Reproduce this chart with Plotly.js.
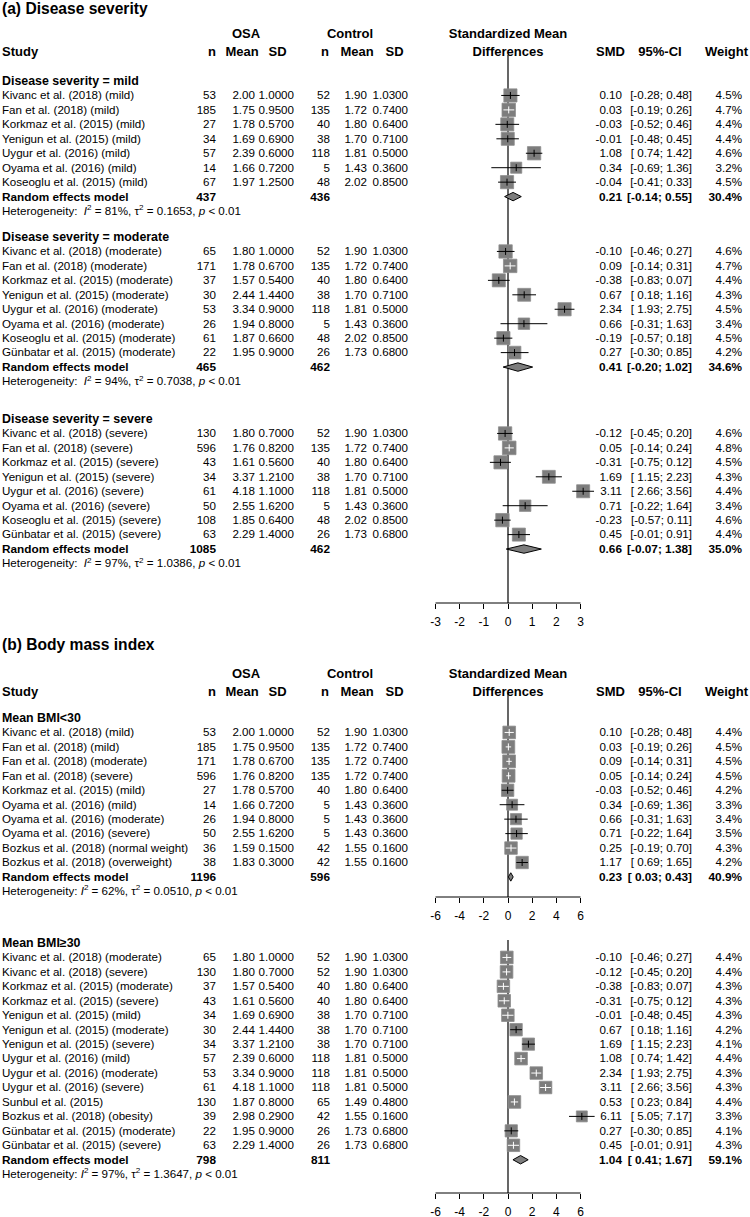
<!DOCTYPE html>
<html><head><meta charset="utf-8">
<script src="https://cdn.plot.ly/plotly-3.0.1.min.js"></script>
<style>html,body{margin:0;padding:0;background:#fff}</style>
</head><body><div id="chart" style="width:750px;height:1217px"></div>
<script>
// ================= DATA: panel (a) Disease severity =================
const aGroupLabels = ['Disease severity = mild', 'Disease severity = moderate', 'Disease severity = severe'];
const aGroupOf = [0,0,0,0,0,0,0, 1,1,1,1,1,1,1,1, 2,2,2,2,2,2,2,2];
const aStudies = [
 'Kivanc et al. (2018) (mild)','Fan et al. (2018) (mild)','Korkmaz et al. (2015) (mild)','Yenigun et al. (2015) (mild)','Uygur et al. (2016) (mild)','Oyama et al. (2016) (mild)','Koseoglu et al. (2015) (mild)',
 'Kivanc et al. (2018) (moderate)','Fan et al. (2018) (moderate)','Korkmaz et al. (2015) (moderate)','Yenigun et al. (2015) (moderate)','Uygur et al. (2016) (moderate)','Oyama et al. (2016) (moderate)','Koseoglu et al. (2015) (moderate)','Günbatar et al. (2015) (moderate)',
 'Kivanc et al. (2018) (severe)','Fan et al. (2018) (severe)','Korkmaz et al. (2015) (severe)','Yenigun et al. (2015) (severe)','Uygur et al. (2016) (severe)','Oyama et al. (2016) (severe)','Koseoglu et al. (2015) (severe)','Günbatar et al. (2015) (severe)'];
const aOsaN    = [53,185,27,34,57,14,67, 65,171,37,30,53,26,61,22, 130,596,43,34,61,50,108,63];
const aOsaMean = [2.00,1.75,1.78,1.69,2.39,1.66,1.97, 1.80,1.78,1.57,2.44,3.34,1.94,1.87,1.95, 1.80,1.76,1.61,3.37,4.18,2.55,1.85,2.29];
const aOsaSD   = [1.00,0.95,0.57,0.69,0.60,0.72,1.25, 1.00,0.67,0.54,1.44,0.90,0.80,0.66,0.90, 0.70,0.82,0.56,1.21,1.10,1.62,0.64,1.40];
const aCtlN    = [52,135,40,38,118,5,48, 52,135,40,38,118,5,48,26, 52,135,40,38,118,5,48,26];
const aCtlMean = [1.90,1.72,1.80,1.70,1.81,1.43,2.02, 1.90,1.72,1.80,1.70,1.81,1.43,2.02,1.73, 1.90,1.72,1.80,1.70,1.81,1.43,2.02,1.73];
const aCtlSD   = [1.03,0.74,0.64,0.71,0.50,0.36,0.85, 1.03,0.74,0.64,0.71,0.50,0.36,0.85,0.68, 1.03,0.74,0.64,0.71,0.50,0.36,0.85,0.68];
const aSMD     = [0.10,0.03,-0.03,-0.01,1.08,0.34,-0.04, -0.10,0.09,-0.38,0.67,2.34,0.66,-0.19,0.27, -0.12,0.05,-0.31,1.69,3.11,0.71,-0.23,0.45];
const aLo      = [-0.28,-0.19,-0.52,-0.48,0.74,-0.69,-0.41, -0.46,-0.14,-0.83,0.18,1.93,-0.31,-0.57,-0.30, -0.45,-0.14,-0.75,1.15,2.66,-0.22,-0.57,-0.01];
const aHi      = [0.48,0.26,0.46,0.45,1.42,1.36,0.33, 0.27,0.31,0.07,1.16,2.75,1.63,0.18,0.85, 0.20,0.24,0.12,2.23,3.56,1.64,0.11,0.91];
const aWeight  = [4.5,4.7,4.4,4.4,4.6,3.2,4.5, 4.6,4.7,4.4,4.3,4.5,3.4,4.5,4.2, 4.6,4.8,4.5,4.3,4.4,3.4,4.6,4.4];
const aPoolOsaN = [437,465,1085];
const aPoolCtlN = [436,462,462];
const aPoolSMD  = [0.21,0.41,0.66];
const aPoolLo   = [-0.14,-0.20,-0.07];
const aPoolHi   = [0.55,1.02,1.38];
const aPoolWeight = [30.4,34.6,35.0];
const aI2   = [81,94,97];
const aTau2 = [0.1653,0.7038,1.0386];
const aTicks = [-3,-2,-1,0,1,2,3];
const aTickLabels = ['-3','-2','-1','0','1','2','3'];

// ================= DATA: panel (b) Body mass index =================
const bGroupLabels = ['Mean BMI<30', 'Mean BMI≥30'];
const bGroupOf = [0,0,0,0,0,0,0,0,0,0, 1,1,1,1,1,1,1,1,1,1,1,1,1,1];
const bStudies = [
 'Kivanc et al. (2018) (mild)','Fan et al. (2018) (mild)','Fan et al. (2018) (moderate)','Fan et al. (2018) (severe)','Korkmaz et al. (2015) (mild)','Oyama et al. (2016) (mild)','Oyama et al. (2016) (moderate)','Oyama et al. (2016) (severe)','Bozkus et al. (2018) (normal weight)','Bozkus et al. (2018) (overweight)',
 'Kivanc et al. (2018) (moderate)','Kivanc et al. (2018) (severe)','Korkmaz et al. (2015) (moderate)','Korkmaz et al. (2015) (severe)','Yenigun et al. (2015) (mild)','Yenigun et al. (2015) (moderate)','Yenigun et al. (2015) (severe)','Uygur et al. (2016) (mild)','Uygur et al. (2016) (moderate)','Uygur et al. (2016) (severe)','Sunbul et al. (2015)','Bozkus et al. (2018) (obesity)','Günbatar et al. (2015) (moderate)','Günbatar et al. (2015) (severe)'];
const bOsaN    = [53,185,171,596,27,14,26,50,36,38, 65,130,37,43,34,30,34,57,53,61,130,39,22,63];
const bOsaMean = [2.00,1.75,1.78,1.76,1.78,1.66,1.94,2.55,1.59,1.83, 1.80,1.80,1.57,1.61,1.69,2.44,3.37,2.39,3.34,4.18,1.87,2.98,1.95,2.29];
const bOsaSD   = [1.00,0.95,0.67,0.82,0.57,0.72,0.80,1.62,0.15,0.30, 1.00,0.70,0.54,0.56,0.69,1.44,1.21,0.60,0.90,1.10,0.80,0.29,0.90,1.40];
const bCtlN    = [52,135,135,135,40,5,5,5,42,42, 52,52,40,40,38,38,38,118,118,118,65,42,26,26];
const bCtlMean = [1.90,1.72,1.72,1.72,1.80,1.43,1.43,1.43,1.55,1.55, 1.90,1.90,1.80,1.80,1.70,1.70,1.70,1.81,1.81,1.81,1.49,1.55,1.73,1.73];
const bCtlSD   = [1.03,0.74,0.74,0.74,0.64,0.36,0.36,0.36,0.16,0.16, 1.03,1.03,0.64,0.64,0.71,0.71,0.71,0.50,0.50,0.50,0.48,0.16,0.68,0.68];
const bSMD     = [0.10,0.03,0.09,0.05,-0.03,0.34,0.66,0.71,0.25,1.17, -0.10,-0.12,-0.38,-0.31,-0.01,0.67,1.69,1.08,2.34,3.11,0.53,6.11,0.27,0.45];
const bLo      = [-0.28,-0.19,-0.14,-0.14,-0.52,-0.69,-0.31,-0.22,-0.19,0.69, -0.46,-0.45,-0.83,-0.75,-0.48,0.18,1.15,0.74,1.93,2.66,0.23,5.05,-0.30,-0.01];
const bHi      = [0.48,0.26,0.31,0.24,0.46,1.36,1.63,1.64,0.70,1.65, 0.27,0.20,0.07,0.12,0.45,1.16,2.23,1.42,2.75,3.56,0.84,7.17,0.85,0.91];
const bWeight  = [4.4,4.5,4.5,4.5,4.2,3.3,3.4,3.5,4.3,4.2, 4.4,4.4,4.3,4.3,4.3,4.2,4.1,4.4,4.3,4.3,4.4,3.3,4.1,4.3];
const bPoolOsaN = [1196,798];
const bPoolCtlN = [596,811];
const bPoolSMD  = [0.23,1.04];
const bPoolLo   = [0.03,0.41];
const bPoolHi   = [0.43,1.67];
const bPoolWeight = [40.9,59.1];
const bI2   = [62,97];
const bTau2 = [0.0510,1.3647];
const bTicks = [-6,-4,-2,0,2,4,6];
const bTickLabels = ['-6','-4','-2','0','2','4','6'];

// ================= LAYOUT CONFIG (positions / styles) =================
const W = 750, H = 1217;
const FONT = 'Liberation Sans, Arial, Helvetica, sans-serif';
const FS = 11.6;             // body font size
const FS_BOLD = 11.8;        // pooled row
const FS_GROUP = 12.4;       // subgroup header
const FS_HDR = 13;           // column headers
const FS_TITLE = 15.6;
const STEP = 14.45;          // row height in px
const TXT_DY = 1;            // text baseline tweak
const COL = {study:2, osaN:216, osaMean:255, osaSD:294, ctlN:330, ctlMean:367, ctlSD:408, smd:622, ci:692, w:742};
const HDR = {osa:246, ctl:350, smdHead:508, n1:216, mean1:242, sd1:277.5, n2:329, mean2:357, sd2:394.5, smd:625, ci:660, w:748};
const FOREST_PX = [435.5, 580.5];   // pixel span of the tick range
const DOM_PX = [390, 640];          // pixel span of the forest axes' domain
const SQ_COL = '#7d7d7d';
const SQ_EDGE = '#8e8e8e';
const AXES = [
  {id:2, ticks:aTicks, labels:aTickLabels, lineY:603, zeroTop:55,  sqMax:13.6, sqTest:13},
  {id:3, ticks:bTicks, labels:bTickLabels, lineY:897, zeroTop:693, sqMax:12.8, sqTest:11.8},
  {id:4, ticks:bTicks, labels:bTickLabels, lineY:1193, zeroTop:940, sqMax:12.8, sqTest:11.8}
];
AXES.forEach(a => {
  const tmin = Math.min(...a.ticks), tmax = Math.max(...a.ticks);
  a.tmin = tmin; a.tmax = tmax;
  a.ppu = (FOREST_PX[1] - FOREST_PX[0]) / (tmax - tmin);
  a.zero = FOREST_PX[0] - tmin * a.ppu;
  a.range = [(DOM_PX[0] - a.zero) / a.ppu, (DOM_PX[1] - a.zero) / a.ppu];
  a.marks = {sqX:[], sqY:[], sqS:[], blk:{x:[],y:[]}, wht:{x:[],y:[]}, tkX:[], tkY:[], tkC:[], dia:[]};
});

const panels = [
  {title:'(a) Disease severity', titleY:9, hdrY:[34,52], groupY:[81,237,419], axisOf:[0,0,0], hetSep:'\u00a0\u00a0',
   D:{groupLabels:aGroupLabels, groupOf:aGroupOf, study:aStudies, osaN:aOsaN, osaMean:aOsaMean, osaSD:aOsaSD, ctlN:aCtlN, ctlMean:aCtlMean, ctlSD:aCtlSD,
      smd:aSMD, lo:aLo, hi:aHi, w:aWeight, pOsaN:aPoolOsaN, pCtlN:aPoolCtlN, pSMD:aPoolSMD, pLo:aPoolLo, pHi:aPoolHi, pW:aPoolWeight, i2:aI2, tau2:aTau2}},
  {title:'(b) Body mass index', titleY:645, hdrY:[674,692], groupY:[718,943], axisOf:[1,2], hetSep:'\u00a0',
   D:{groupLabels:bGroupLabels, groupOf:bGroupOf, study:bStudies, osaN:bOsaN, osaMean:bOsaMean, osaSD:bOsaSD, ctlN:bCtlN, ctlMean:bCtlMean, ctlSD:bCtlSD,
      smd:bSMD, lo:bLo, hi:bHi, w:bWeight, pOsaN:bPoolOsaN, pCtlN:bPoolCtlN, pSMD:bPoolSMD, pLo:bPoolLo, pHi:bPoolHi, pW:bPoolWeight, i2:bI2, tau2:bTau2}}
];

// ================= BUILD =================
const T = {left:{x:[],y:[],t:[],s:[]}, right:{x:[],y:[],t:[],s:[]}, center:{x:[],y:[],t:[],s:[]}};
function addText(al, x, y, txt, size) { const o=T[al]; o.x.push(x); o.y.push(y+TXT_DY); o.t.push(txt); o.s.push(size||FS); }
const esc = s => s.replace(/&/g,'&amp;').replace(/</g,'&lt;').replace(/>/g,'&gt;');
const ciText = (lo,hi) => '[' + (lo >= 0 ? '\u00a0' : '') + lo.toFixed(2) + '; ' + hi.toFixed(2) + ']';
const bold = s => '<b>' + s + '</b>';

panels.forEach(P => {
  const D = P.D;
  const maxW = Math.max(...D.w);
  addText('left', 2, P.titleY, bold(P.title), FS_TITLE);
  const [h1, h2] = P.hdrY;
  addText('center', HDR.osa, h1, bold('OSA'), FS_HDR);
  addText('center', HDR.ctl, h1, bold('Control'), FS_HDR);
  addText('center', HDR.smdHead, h1, bold('Standardized Mean'), FS_HDR);
  addText('left', 2, h2, bold('Study'), FS_HDR);
  addText('right', HDR.n1, h2, bold('n'), FS_HDR);
  addText('center', HDR.mean1, h2, bold('Mean'), FS_HDR);
  addText('center', HDR.sd1, h2, bold('SD'), FS_HDR);
  addText('right', HDR.n2, h2, bold('n'), FS_HDR);
  addText('center', HDR.mean2, h2, bold('Mean'), FS_HDR);
  addText('center', HDR.sd2, h2, bold('SD'), FS_HDR);
  addText('center', HDR.smdHead, h2, bold('Differences'), FS_HDR);
  addText('right', HDR.smd, h2, bold('SMD'), FS_HDR);
  addText('center', HDR.ci, h2, bold('95%-CI'), FS_HDR);
  addText('right', HDR.w, h2, bold('Weight'), FS_HDR);

  P.groupY.forEach((gy, g) => {
    const A = AXES[P.axisOf[g]], M = A.marks;
    addText('left', COL.study, gy, bold(esc(D.groupLabels[g])), FS_GROUP);
    const idx = D.groupOf.map((v,k)=>v===g?k:-1).filter(k=>k>=0);
    idx.forEach((k, i) => {
      const y = gy + (i+1)*STEP;
      addText('left', COL.study, y, D.study[k]);
      addText('right', COL.osaN, y, String(D.osaN[k]));
      addText('right', COL.osaMean, y, D.osaMean[k].toFixed(2));
      addText('right', COL.osaSD, y, D.osaSD[k].toFixed(4));
      addText('right', COL.ctlN, y, String(D.ctlN[k]));
      addText('right', COL.ctlMean, y, D.ctlMean[k].toFixed(2));
      addText('right', COL.ctlSD, y, D.ctlSD[k].toFixed(4));
      addText('right', COL.smd, y, D.smd[k].toFixed(2));
      addText('right', COL.ci, y, ciText(D.lo[k], D.hi[k]));
      addText('right', COL.w, y, D.w[k].toFixed(1) + '%');
      const rel = Math.sqrt(D.w[k] / maxW);
      M.sqX.push(D.smd[k]); M.sqY.push(y); M.sqS.push(A.sqMax * rel);
      const inside = (D.hi[k] - D.lo[k]) * A.ppu < A.sqTest * rel;
      const L = inside ? M.wht : M.blk;
      L.x.push(D.lo[k], D.hi[k], null); L.y.push(y, y, null);
      M.tkX.push(D.smd[k]); M.tkY.push(y); M.tkC.push(inside ? '#ffffff' : '#000000');
    });
    const py = gy + (idx.length+1)*STEP;
    addText('left', COL.study, py, bold('Random effects model'), FS_BOLD);
    addText('right', COL.osaN, py, bold(String(D.pOsaN[g])), FS_BOLD);
    addText('right', COL.ctlN, py, bold(String(D.pCtlN[g])), FS_BOLD);
    addText('right', COL.smd, py, bold(D.pSMD[g].toFixed(2)), FS_BOLD);
    addText('right', COL.ci, py, bold(ciText(D.pLo[g], D.pHi[g])), FS_BOLD);
    addText('right', COL.w, py, bold(D.pW[g].toFixed(1) + '%'), FS_BOLD);
    M.dia.push({lo:D.pLo[g], est:D.pSMD[g], hi:D.pHi[g], y:py});
    const hy = py + STEP;
    addText('left', COL.study, hy, 'Heterogeneity:' + P.hetSep + '<i>I</i><sup>2</sup> = ' + D.i2[g] + '%, \u03c4<sup>2</sup> = ' + D.tau2[g].toFixed(4) + ', <i>p</i> &lt; 0.01');
  });
});

const traces = [];
const shapes = [];
const layout = {
  width:W, height:H, margin:{l:0,r:0,t:0,b:0,pad:0}, paper_bgcolor:'#ffffff', plot_bgcolor:'rgba(0,0,0,0)',
  showlegend:false, font:{family:FONT, size:12, color:'#000'},
  xaxis:{domain:[0,1], range:[0,W], autorange:false, visible:false, fixedrange:true},
  yaxis:{domain:[0,1], range:[H,0], autorange:false, visible:false, fixedrange:true}
};

AXES.forEach(A => {
  const xa = 'x' + A.id, M = A.marks;
  layout['xaxis' + A.id] = {
    domain:[DOM_PX[0]/W, DOM_PX[1]/W], range:A.range, autorange:false, anchor:'free', position:1 - A.lineY/H,
    showgrid:false, zeroline:false, showline:false, ticks:'outside', ticklen:5, tickwidth:1, tickcolor:'#000',
    tickmode:'array', tickvals:A.ticks, ticktext:A.labels, tickfont:{family:FONT, size:12, color:'#000'},
    ticklabelstandoff:3, fixedrange:true
  };
  shapes.push({type:'line', xref:xa, yref:'y', x0:0, x1:0, y0:A.zeroTop, y1:A.lineY, layer:'below', line:{color:'#000', width:1.2}});
  shapes.push({type:'line', xref:xa, yref:'y', x0:A.tmin, x1:A.tmax, y0:A.lineY, y1:A.lineY, line:{color:'#000', width:1}});
  traces.push({type:'scatter', mode:'markers', xaxis:xa, yaxis:'y', x:M.sqX, y:M.sqY, hoverinfo:'skip', cliponaxis:false,
    marker:{symbol:'square', size:M.sqS, color:SQ_COL, opacity:1, line:{width:0.8, color:SQ_EDGE}}});
  traces.push({type:'scatter', mode:'lines', xaxis:xa, yaxis:'y', x:M.blk.x, y:M.blk.y, hoverinfo:'skip', line:{color:'#000', width:1}});
  traces.push({type:'scatter', mode:'lines', xaxis:xa, yaxis:'y', x:M.wht.x, y:M.wht.y, hoverinfo:'skip', line:{color:'#fff', width:1}});
  traces.push({type:'scatter', mode:'markers', xaxis:xa, yaxis:'y', x:M.tkX, y:M.tkY, hoverinfo:'skip', cliponaxis:false,
    marker:{symbol:'line-ns', size:5, line:{width:1, color:M.tkC}}});
  M.dia.forEach(d => {
    const hh = 4.2;
    traces.push({type:'scatter', mode:'lines', xaxis:xa, yaxis:'y', fill:'toself', fillcolor:SQ_COL,
      x:[d.lo, d.est, d.hi, d.est, d.lo], y:[d.y, d.y - hh, d.y, d.y + hh, d.y],
      line:{color:'#000', width:1}, hoverinfo:'skip'});
  });
});

const posMap = {left:'middle right', right:'middle left', center:'middle center'};
Object.keys(T).forEach(al => {
  const o = T[al];
  traces.push({type:'scatter', mode:'text', xaxis:'x', yaxis:'y', x:o.x, y:o.y, text:o.t, textposition:posMap[al],
    textfont:{family:FONT, size:o.s, color:'#000'}, hoverinfo:'skip', cliponaxis:false});
});
layout.shapes = shapes;

Plotly.newPlot('chart', traces, layout, {staticPlot:true, displayModeBar:false});
</script>
</body></html>
